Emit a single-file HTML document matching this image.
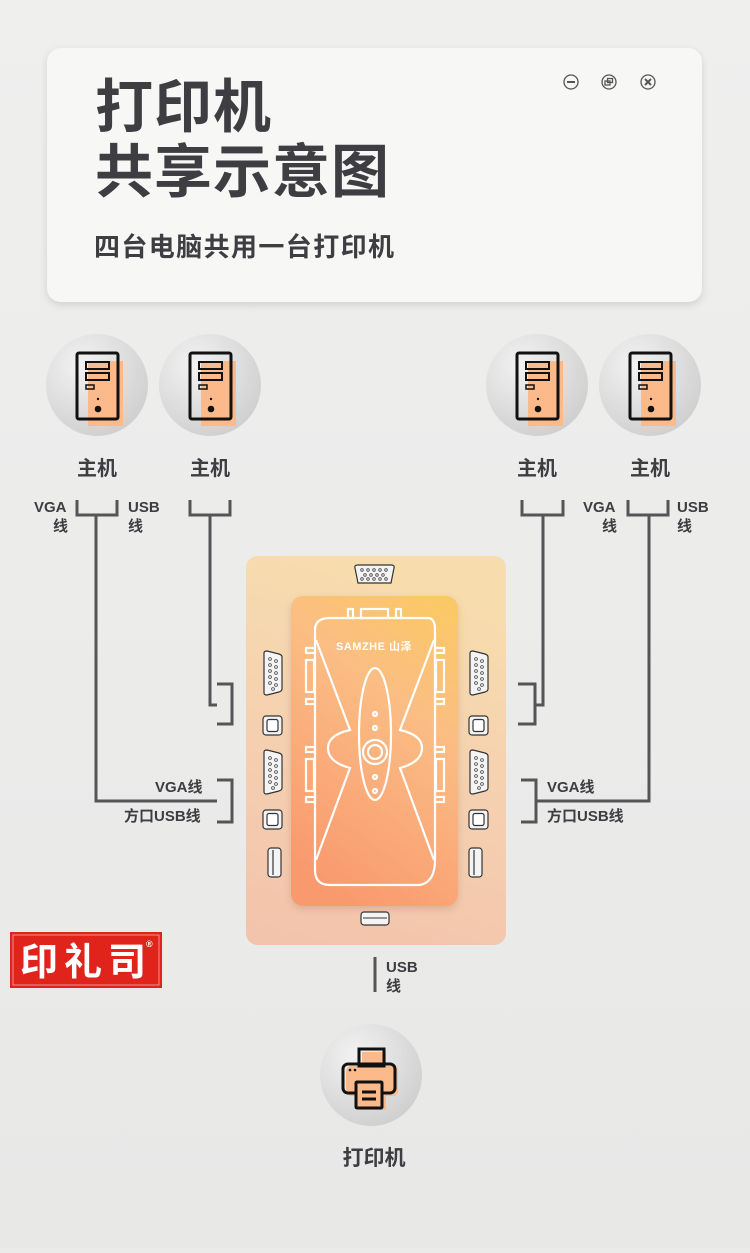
<!DOCTYPE html>
<html><head><meta charset="utf-8"><style>
html,body{margin:0;padding:0;}
body{width:750px;height:1248px;background:#ebebea;overflow:hidden;font-family:"Liberation Sans","Noto Sans CJK SC",sans-serif;}
svg text{font-family:"Liberation Sans","Noto Sans CJK SC",sans-serif;font-weight:bold;fill:#3d3d42;}
</style></head><body>
<svg width="750" height="1248" viewBox="0 0 750 1248" xmlns="http://www.w3.org/2000/svg">
<defs>
<linearGradient id="bg" x1="0" y1="0" x2="0" y2="1"><stop offset="0" stop-color="#efefee"/><stop offset="1" stop-color="#e8e8e7"/></linearGradient>
<linearGradient id="outer" x1="0.2" y1="0" x2="0" y2="1"><stop offset="0" stop-color="#f7dcae"/><stop offset="0.5" stop-color="#f5cfb0"/><stop offset="1" stop-color="#f2c3ab"/></linearGradient>
<linearGradient id="inner" x1="0.8" y1="0" x2="0.4" y2="1"><stop offset="0" stop-color="#fbc868"/><stop offset="0.35" stop-color="#fbbd84"/><stop offset="1" stop-color="#f99a6e"/></linearGradient>
<radialGradient id="circ" cx="0.35" cy="0.3" r="0.8"><stop offset="0" stop-color="#f2f2f2"/><stop offset="1" stop-color="#cdcdcd"/></radialGradient>
<filter id="sh" x="-10%" y="-10%" width="120%" height="130%"><feDropShadow dx="0" dy="3" stdDeviation="4" flood-color="#000" flood-opacity="0.12"/></filter>
<g id="tower">
<rect x="11" y="8" width="35" height="65" fill="#fcb98a"/>
<rect x="0" y="0" width="41" height="66" rx="2" fill="none" stroke="#111" stroke-width="3"/>
<rect x="9" y="9" width="23" height="7" fill="none" stroke="#111" stroke-width="2"/>
<rect x="9" y="20" width="23" height="7" fill="none" stroke="#111" stroke-width="2"/>
<rect x="9" y="32" width="8" height="4" fill="none" stroke="#111" stroke-width="1.5"/>
<circle cx="21" cy="46" r="1.2" fill="#111"/>
<circle cx="21" cy="56" r="3.3" fill="#111"/>
</g>
<g id="vga">
<path d="M1,2 Q1,0 4,0 L16,3 Q19,4 19,6 L19,38 Q19,40 16,41 L4,44 Q1,44 1,42 Z" fill="#f4f4f4" stroke="#333" stroke-width="1.2"/>
<g fill="none" stroke="#444" stroke-width="0.8">
<circle cx="7" cy="8" r="1.4"/><circle cx="13" cy="10" r="1.4"/><circle cx="7" cy="14" r="1.4"/><circle cx="13" cy="16" r="1.4"/><circle cx="7" cy="20" r="1.4"/><circle cx="13" cy="22" r="1.4"/><circle cx="7" cy="26" r="1.4"/><circle cx="13" cy="28" r="1.4"/><circle cx="7" cy="32" r="1.4"/><circle cx="13" cy="34" r="1.4"/><circle cx="10" cy="38" r="1.4"/>
</g></g>
<g id="usbb"><rect x="0" y="0" width="19" height="19" rx="3" fill="#f4f4f4" stroke="#333" stroke-width="1.2"/><rect x="4" y="3.5" width="11" height="12" rx="2" fill="#fff" stroke="#333" stroke-width="1.2"/></g>
<g id="usba"><rect x="0" y="0" width="13" height="29" rx="3" fill="#f4f4f4" stroke="#333" stroke-width="1.2"/><line x1="5" y1="2" x2="5" y2="27" stroke="#333" stroke-width="1.2"/></g>
</defs>
<rect width="750" height="1248" fill="url(#bg)"/>

<!-- header card -->
<rect x="47" y="48" width="655" height="254" rx="14" fill="#f7f7f6" filter="url(#sh)"/>
<text x="95" y="127" font-size="58" letter-spacing="1">打印机</text>
<text x="95" y="192" font-size="58" letter-spacing="1">共享示意图</text>
<text x="94" y="256" font-size="26" textLength="300" lengthAdjust="spacing">四台电脑共用一台打印机</text>
<g fill="none" stroke="#555" stroke-width="1.3">
<circle cx="571" cy="82" r="7"/><line x1="567" y1="82" x2="575" y2="82" stroke-width="2"/>
<circle cx="609" cy="82" r="7"/><rect x="605" y="81" width="5" height="4"/><rect x="607.5" y="78.5" width="5" height="4"/>
<circle cx="648" cy="82" r="7"/><path d="M645,79 L651,85 M651,79 L645,85" stroke-width="2"/>
</g>

<!-- host circles -->
<g>
<circle cx="97" cy="385" r="51" fill="url(#circ)"/><use href="#tower" x="77" y="353"/>
<circle cx="210" cy="385" r="51" fill="url(#circ)"/><use href="#tower" x="190" y="353"/>
<circle cx="537" cy="385" r="51" fill="url(#circ)"/><use href="#tower" x="517" y="353"/>
<circle cx="650" cy="385" r="51" fill="url(#circ)"/><use href="#tower" x="630" y="353"/>
</g>
<g font-size="20" text-anchor="middle">
<text x="97" y="475">主机</text><text x="210" y="475">主机</text><text x="537" y="475">主机</text><text x="650" y="475">主机</text>
</g>
<g font-size="15">
<text x="34" y="512">VGA</text><text x="53" y="531">线</text>
<text x="128" y="512">USB</text><text x="128" y="531">线</text>
<text x="583" y="512">VGA</text><text x="602" y="531">线</text>
<text x="677" y="512">USB</text><text x="677" y="531">线</text>
<text x="155" y="792">VGA线</text><text x="124" y="821">方口USB线</text>
<text x="547" y="792">VGA线</text><text x="547" y="821">方口USB线</text>
<text x="386" y="972">USB</text><text x="386" y="991">线</text>
</g>

<!-- connectors -->
<g fill="none" stroke="#555558" stroke-width="3">
<path d="M77,500 V515 H117 V500 M96,515 V801 H217"/>
<path d="M217,780 H232 V822 H217"/>
<path d="M190,500 V515 H230 V500 M210,515 V705 H217"/>
<path d="M217,684 H232 V724 H217"/>
<path d="M522,500 V515 H563 V500 M543,515 V705 H535"/>
<path d="M518,684 H535 V724 H518"/>
<path d="M628,500 V515 H668 V500 M649,515 V801 H536"/>
<path d="M521,780 H536 V822 H521"/>
<path d="M375,957 V992"/>
</g>

<!-- switch -->
<rect x="246" y="556" width="260" height="389" rx="12" fill="url(#outer)"/>
<rect x="291" y="596" width="167" height="310" rx="12" fill="url(#inner)" filter="url(#sh)"/>
<path d="M355,568 Q354,565 358,565 L391,565 Q395,565 394,568 L391,583 L358,583 Z" fill="#f4f4f4" stroke="#333" stroke-width="1.2"/>
<g fill="none" stroke="#444" stroke-width="0.8">
<circle cx="362" cy="570" r="1.3"/><circle cx="368" cy="570" r="1.3"/><circle cx="374" cy="570" r="1.3"/><circle cx="380" cy="570" r="1.3"/><circle cx="386" cy="570" r="1.3"/>
<circle cx="365" cy="575" r="1.3"/><circle cx="371" cy="575" r="1.3"/><circle cx="377" cy="575" r="1.3"/><circle cx="383" cy="575" r="1.3"/>
<circle cx="362" cy="579" r="1.3"/><circle cx="368" cy="579" r="1.3"/><circle cx="374" cy="579" r="1.3"/><circle cx="380" cy="579" r="1.3"/><circle cx="386" cy="579" r="1.3"/>
</g>
<rect x="361" y="912" width="28" height="13" rx="3" fill="#f4f4f4" stroke="#333" stroke-width="1.2"/>
<line x1="363" y1="918" x2="387" y2="918" stroke="#333" stroke-width="1"/>
<g fill="none" stroke="#fff" stroke-width="2.2">
<path d="M330,618 H428 Q435,618 435,630 V860 Q435,882 420,885 H330 Q315,885 315,870 V630 Q315,618 330,618 Z"/>
<rect x="361" y="609" width="27" height="9"/><rect x="348" y="609" width="5" height="9"/><rect x="396" y="609" width="5" height="9"/>
<path d="M316,640 L350,730 Q328,735 328,748 Q328,762 350,768 L316,860"/>
<path d="M434,640 L400,730 Q422,735 422,748 Q422,762 400,768 L434,860"/>
<ellipse cx="375" cy="734" rx="16" ry="66"/>
<circle cx="375" cy="752" r="12"/><circle cx="375" cy="752" r="7"/>
<circle cx="375" cy="714" r="2"/><circle cx="375" cy="728" r="2"/><circle cx="375" cy="777" r="2"/><circle cx="375" cy="791" r="2"/>
<rect x="306" y="648" width="9" height="5"/><rect x="306" y="660" width="8" height="32"/><rect x="306" y="699" width="9" height="5"/>
<rect x="306" y="747" width="9" height="5"/><rect x="306" y="759" width="8" height="32"/><rect x="306" y="797" width="9" height="5"/>
<rect x="435" y="648" width="9" height="5"/><rect x="436" y="660" width="8" height="32"/><rect x="435" y="699" width="9" height="5"/>
<rect x="435" y="747" width="9" height="5"/><rect x="436" y="759" width="8" height="32"/><rect x="435" y="797" width="9" height="5"/>
</g>
<text x="336" y="650" font-size="11" style="fill:#fff" letter-spacing="0.5">SAMZHE 山泽</text>
<use href="#vga" x="263" y="651"/><use href="#usbb" x="263" y="716"/><use href="#vga" x="263" y="750"/><use href="#usbb" x="263" y="810"/><use href="#usba" x="268" y="848"/>
<use href="#vga" x="469" y="651"/><use href="#usbb" x="469" y="716"/><use href="#vga" x="469" y="750"/><use href="#usbb" x="469" y="810"/><use href="#usba" x="469" y="848"/>

<!-- logo -->
<rect x="10" y="932" width="152" height="56" fill="#e0241b"/>
<rect x="13" y="935" width="146" height="50" fill="none" stroke="#fff" stroke-width="1" opacity="0.5"/>
<text x="20" y="975" font-size="38" style="fill:#fff" font-family="Noto Serif CJK SC, serif" letter-spacing="6">印礼司</text>
<text x="146" y="947" font-size="9" style="fill:#fff">®</text>

<!-- printer -->
<circle cx="371" cy="1075" r="51" fill="url(#circ)"/>
<g>
<rect x="362" y="1052" width="24" height="14" fill="#fcb98a"/>
<rect x="346" y="1066" width="52" height="30" rx="5" fill="#fcb98a"/>
<rect x="360" y="1082" width="26" height="28" fill="#fcb98a"/>
<rect x="359" y="1049" width="25" height="17" fill="none" stroke="#111" stroke-width="3"/>
<rect x="343" y="1064" width="52" height="29" rx="5" fill="none" stroke="#111" stroke-width="3"/>
<rect x="356" y="1082" width="26" height="26" rx="1" fill="#fcb98a" stroke="#111" stroke-width="3"/>
<line x1="362" y1="1092" x2="376" y2="1092" stroke="#111" stroke-width="3"/>
<line x1="362" y1="1099" x2="376" y2="1099" stroke="#111" stroke-width="3"/>
<circle cx="350" cy="1070" r="1.3" fill="#111"/><circle cx="355" cy="1070" r="1.3" fill="#111"/>
</g>
<text x="374" y="1165" font-size="21" text-anchor="middle">打印机</text>
</svg>
</body></html>
